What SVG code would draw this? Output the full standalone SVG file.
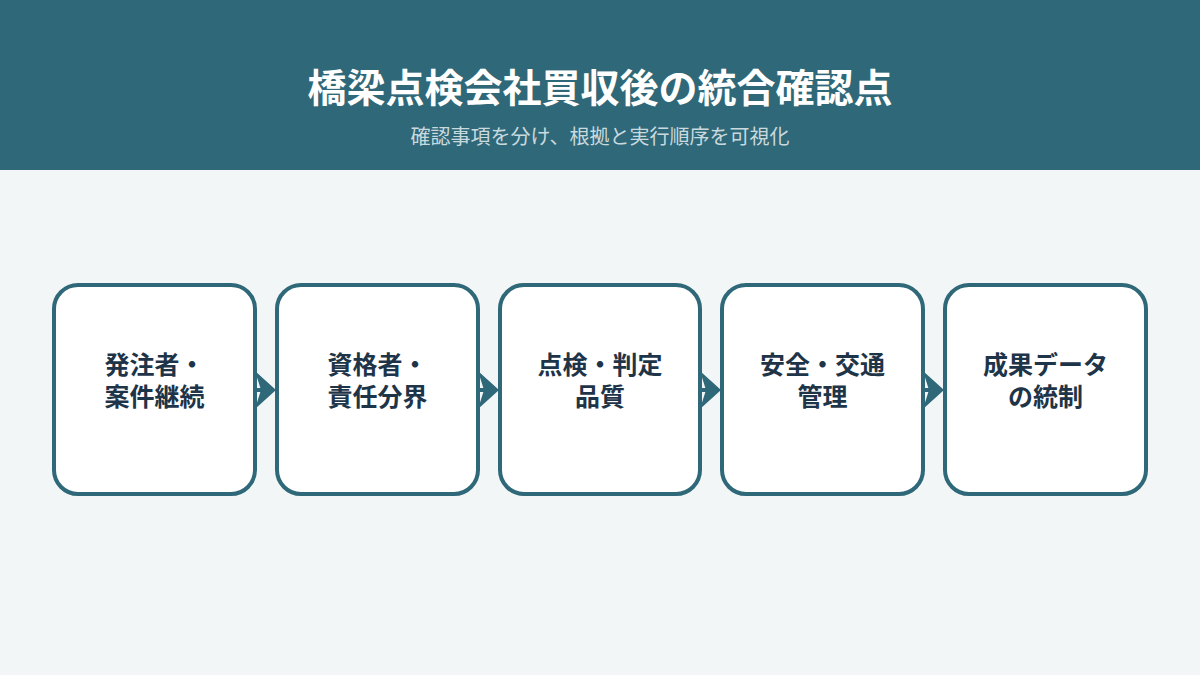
<svg xmlns="http://www.w3.org/2000/svg" width="1200" height="675" viewBox="0 0 1200 675">
<style>
.title{font-family:"Noto Sans CJK JP","Noto Sans",sans-serif;font-size:39px;font-weight:700;fill:#ffffff;text-anchor:middle}
.sub{font-family:"Noto Sans CJK JP","Noto Sans",sans-serif;font-size:20px;fill:#c9dadf;text-anchor:middle}
.box{fill:#ffffff;stroke:#2f6878;stroke-width:4}
.lbl{font-family:"Noto Sans CJK JP","Noto Sans",sans-serif;font-size:25px;font-weight:700;fill:#1e3448;text-anchor:middle}
.ln{stroke:#2f6878;stroke-width:4;fill:none}
.ah{fill:#2f6878}
</style>
<rect x="0" y="0" width="1200" height="675" fill="#f3f6f7"/>
<rect x="0" y="0" width="1200" height="170" fill="#2f6878"/>
<text class="title" x="600" y="102">橋梁点検会社買収後の統合確認点</text>
<text class="sub" x="600" y="144">確認事項を分け、根拠と実行順序を可視化</text>
<g id="connectors">
<line class="ln" x1="255" y1="390" x2="272" y2="390"/>
<polygon class="ah" points="255,371 276,390 255,409 261,390"/>
<line class="ln" x1="478" y1="390" x2="495" y2="390"/>
<polygon class="ah" points="478,371 499,390 478,409 484,390"/>
<line class="ln" x1="700" y1="390" x2="717" y2="390"/>
<polygon class="ah" points="700,371 721,390 700,409 706,390"/>
<line class="ln" x1="923" y1="390" x2="940" y2="390"/>
<polygon class="ah" points="923,371 944,390 923,409 929,390"/>
</g>
<g id="node1"><rect class="box" x="54" y="285" width="201" height="209" rx="24"/><text class="lbl" x="154.5" y="374">発注者・</text><text class="lbl" x="154.5" y="406">案件継続</text></g>
<g id="node2"><rect class="box" x="277" y="285" width="201" height="209" rx="24"/><text class="lbl" x="377.5" y="374">資格者・</text><text class="lbl" x="377.5" y="406">責任分界</text></g>
<g id="node3"><rect class="box" x="500" y="285" width="200" height="209" rx="24"/><text class="lbl" x="600" y="374">点検・判定</text><text class="lbl" x="600" y="406">品質</text></g>
<g id="node4"><rect class="box" x="722" y="285" width="201" height="209" rx="24"/><text class="lbl" x="822.5" y="374">安全・交通</text><text class="lbl" x="822.5" y="406">管理</text></g>
<g id="node5"><rect class="box" x="945" y="285" width="201" height="209" rx="24"/><text class="lbl" x="1045.5" y="374">成果データ</text><text class="lbl" x="1045.5" y="406">の統制</text></g>
</svg>
